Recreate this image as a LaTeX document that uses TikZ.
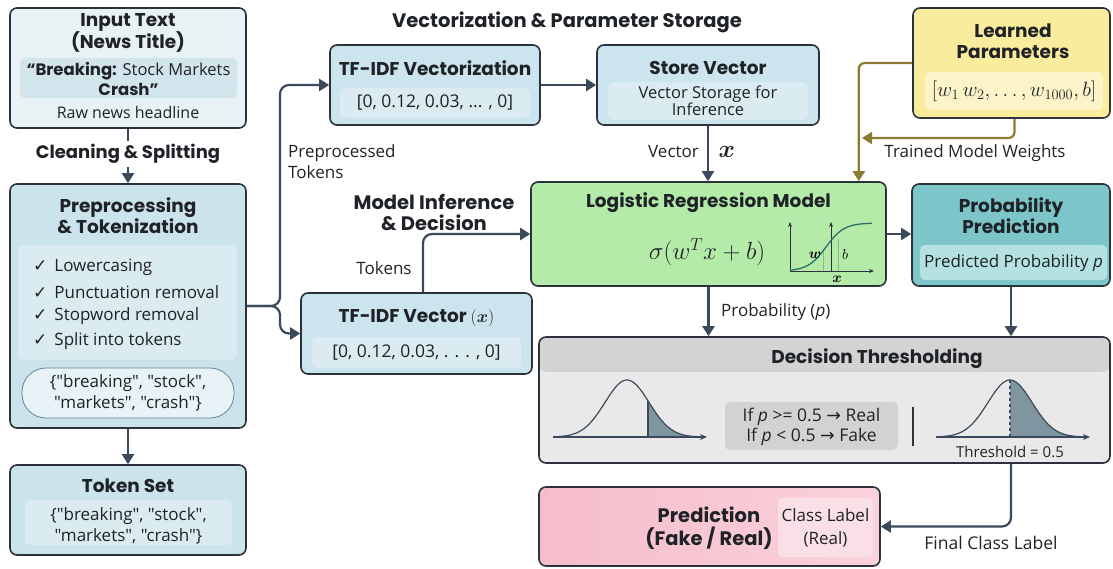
\documentclass[tikz,border=0pt]{standalone}
\usepackage{fontspec}
\setmainfont{Open Sans}[Ligatures=TeXOff]
\newfontfamily\hfont{Poppins}
\newfontfamily\symfont{DejaVu Sans}
\usepackage{bm}
\usetikzlibrary{arrows.meta,positioning,calc}
\definecolor{edge}{HTML}{2B323B}
\definecolor{ink}{HTML}{1F2328}
\definecolor{arrowc}{HTML}{3A4A5C}
\definecolor{inputfill}{HTML}{E8F2F5}
\definecolor{inputin}{HTML}{D3E5EC}
\definecolor{prepfill}{HTML}{CBE4EC}
\definecolor{prepin}{HTML}{DAEBF1}
\definecolor{pillfill}{HTML}{E7F3F6}
\definecolor{pilledge}{HTML}{5F8796}
\definecolor{tfvfill}{HTML}{CBE4ED}
\definecolor{tfvin}{HTML}{DAEBF1}
\definecolor{learnfill}{HTML}{F9EC9C}
\definecolor{learnin}{HTML}{FCF3C8}
\definecolor{olive}{HTML}{8B7B33}
\definecolor{logitfill}{HTML}{B4EBA8}
\definecolor{probfill}{HTML}{7CC6C9}
\definecolor{probin}{HTML}{B5E1E1}
\definecolor{dechead}{HTML}{D3D3D3}
\definecolor{decbody}{HTML}{E9E9E9}
\definecolor{decin}{HTML}{D2D2D2}
\definecolor{predl}{HTML}{F6BCCB}
\definecolor{predr}{HTML}{FAD2DC}
\definecolor{predin}{HTML}{FBDFE6}
\definecolor{shadec}{HTML}{7F959F}
\definecolor{sigc}{HTML}{2D6F6A}
\definecolor{gridc}{HTML}{8DB58C}
\newcommand\chk{{\symfont\char"2713}\hspace{7pt}}
\newcommand\rarr{{\symfont\char"2192}}

\begin{document}
\begin{tikzpicture}[x=1pt,y=-1pt,
    box/.style={draw=edge, line width=1.6pt, rounded corners=7pt, inner sep=0pt},
    inbox/.style={rounded corners=5pt, inner sep=0pt},
    ttl/.style={font=\hfont\bfseries\fontsize{18.5}{21}\selectfont, align=center, text=ink, inner sep=0pt},
    head/.style={ttl, font=\hfont\bfseries\fontsize{19.5}{21}\selectfont},
    txt/.style={font=\fontsize{17}{21}\selectfont, align=center, text=ink, inner sep=0pt},
    line/.style={draw=arrowc, line width=2.2pt},
    arr/.style={line, -{Triangle[length=10pt,width=12pt]}},
    warr/.style={draw=olive, line width=2.2pt, -{Triangle[length=10pt,width=12pt]}},
    bell/.style={draw=arrowc, line width=1.2pt},
    axis/.style={draw=edge, line width=0.9pt, -{Stealth[length=5pt,width=4pt]}}]

    \useasboundingbox (0,0) rectangle (1113,569);

    % input and preprocessing
    \node[box, fill=inputfill, minimum width=236pt, minimum height=120pt] (input) at (128,68) {};
    \node[ttl] (inputttl) at (128,33) {Input Text\\(News Title)};
    \node[inbox, fill=inputin, minimum width=217pt, minimum height=40pt] (headline) at (128.5,78) {};
    \node[txt, font=\fontsize{16.5}{20}\selectfont] (headtxt) at (128.5,79) {{\hfont\bfseries “Breaking:} Stock Markets\\{\hfont\bfseries Crash”}};
    \node[txt, font=\fontsize{16}{20}\selectfont] (rawtxt) at (128,113) {Raw news headline};

    \node[ttl, font=\hfont\bfseries\fontsize{18}{21}\selectfont, inner sep=3pt] (cleanlbl) at (128,154) {Cleaning \& Splitting};

    \node[box, fill=prepfill, minimum width=236pt, minimum height=244pt] (prep) at (128,306) {};
    \node[ttl] (prepttl) at (128,216) {Preprocessing\\\& Tokenization};
    \node[inbox, fill=prepin, minimum width=219pt, minimum height=115pt] (steplist) at (127.5,302.5) {};
    \foreach \s [count=\i] in {Lowercasing, Punctuation removal, Stopword removal, Split into tokens}{
        \node[txt, anchor=west] (step\i) at (33,242.5+24.6*\i) {\chk\s};
    }
    \node[txt, draw=pilledge, line width=0.8pt, fill=pillfill, rounded corners=24pt, minimum width=212pt, minimum height=50pt] (tokpill) at (128,393) {\{"breaking", "stock",\\"markets", "crash"\}};

    \node[box, fill=prepfill, minimum width=236pt, minimum height=90pt] (tokset) at (128,510) {};
    \node[ttl] (toksetttl) at (128,486) {Token Set};
    \node[inbox, fill=prepin, minimum width=207pt, minimum height=45pt] (toksetin) at (128.5,522.5) {};
    \node[txt] (toksettxt) at (128.5,526) {\{"breaking", "stock",\\"markets", "crash"\}};

    \draw[line] (input.south) -- (cleanlbl.north);
    \draw[arr] (cleanlbl.south) -- (prep.north);
    \draw[arr] (prep.south) -- (tokset.north);

    % vectorization
    \node[head] (vechead) at (567,22) {Vectorization \& Parameter Storage};
    \node[box, fill=tfvfill, minimum width=210pt, minimum height=80pt] (tfv) at (435,85) {};
    \node[ttl] (tfvttl) at (435,68) {TF-IDF Vectorization};
    \node[inbox, fill=tfvin, minimum width=190pt, minimum height=30pt] (tfvin) at (435,103) {};
    \node[txt, font=\fontsize{17.5}{20}\selectfont] (tfvtxt) at (435,103) {[0, 0.12, 0.03, ... , 0]};

    \node[box, fill=tfvfill, minimum width=222pt, minimum height=80pt] (store) at (708,85) {};
    \node[ttl] (storettl) at (708,68) {Store Vector};
    \node[inbox, fill=tfvin, minimum width=200pt, minimum height=38pt] (storein) at (708,101) {};
    \node[txt, font=\fontsize{16.5}{17}\selectfont] (storetxt) at (708,101) {Vector Storage for\\Inference};

    \node[box, fill=learnfill, minimum width=197pt, minimum height=110pt] (learn) at (1011.5,63) {};
    \node[ttl] (learnttl) at (1013,41) {Learned\\Parameters};
    \node[inbox, fill=learnin, minimum width=178pt, minimum height=38pt] (learnin) at (1014,91) {};
    \node[font=\fontsize{20.5}{21}\selectfont, text=ink] (learntxt) at (1014,91) {$[w_1\, w_2, \ldots, w_{1000}, b]$};

    % model
    \node[box, fill=logitfill, minimum width=355pt, minimum height=104pt] (logit) at (708.5,234) {};
    \node[ttl] (logitttl) at (708.5,203) {Logistic Regression Model};
    \node[font=\fontsize{26}{26}\selectfont, text=ink] (sigma) at (707,252) {$\sigma(w^T x + b)$};
    \draw[axis] (790,271) -- (790,222);
    \draw[axis] (790,271) -- (874,271);
    \draw[axis] (831,271) -- (831,222);
    \draw[gridc, line width=0.8pt] (823,250) -- (823,271) (838,239) -- (838,271);
    \draw[sigc, line width=1.3pt] plot[domain=790:872, samples=50] (\x,{271-48/(1+exp(-(\x-826)/9))});
    \node[font=\fontsize{14}{14}\selectfont] (wlab) at (815,255) {$\bm{w}$};
    \node[font=\fontsize{14}{14}\selectfont] (blab) at (845,255) {$b$};
    \node[font=\fontsize{14}{14}\selectfont] (xlab) at (837,279) {$\bm{x}$};

    \draw[arr] (tfv.east) -- (store.west);
    \draw[arr] (store.south) -- (store.south |- logit.north);
    \node[txt, anchor=east] (veclbl) at (699,152) {Vector};
    \node[font=\fontsize{23}{23}\selectfont, anchor=west, text=ink] (veclblx) at (715,152) {$\bm{x}$};

    \draw[warr, rounded corners=6pt] (learn.west) -| ([xshift=-28pt]logit.north east);
    \coordinate (wjoin) at (862,138);
    \draw[warr, rounded corners=6pt] ([xshift=3pt]learn.south) |- (wjoin);
    \node[txt] (wlbl) at (975,153) {Trained Model Weights};

    \node[box, fill=probfill, minimum width=198pt, minimum height=102pt] (probpred) at (1011,235) {};
    \node[ttl] (probttl) at (1011,216) {Probability\\Prediction};
    \node[inbox, fill=probin, minimum width=187pt, minimum height=35pt] (probin) at (1013.5,262.5) {};
    \node[txt] (probtxt) at (1013.5,263) {Predicted Probability \textit{p}};
    \draw[arr] (logit.east) -- (logit.east -| probpred.west);

    \node[head] (inflbl) at (434,212) {Model Inference\\\& Decision};
    \node[box, fill=tfvfill, minimum width=231pt, minimum height=81pt] (tfx) at (416.5,333.5) {};
    \node[ttl] (tfxttl) at (416.5,318) {TF-IDF Vector $(\bm{x})$};
    \node[inbox, fill=tfvin, minimum width=209pt, minimum height=31pt] (tfxin) at (416.5,352.5) {};
    \node[txt, font=\fontsize{17.5}{20}\selectfont] (tfxtxt) at (416.5,353) {[0, 0.12, 0.03, . . . , 0]};
    \draw[arr, rounded corners=9pt] ([xshift=6.5pt]tfx.north) |- (logit.west);
    \node[txt] (toklbl) at (384,268) {Tokens};

    \coordinate (split) at (280,306);
    \draw[arr, rounded corners=9pt] (prep.east) -- (split) |- (tfv.west);
    \draw[arr, rounded corners=9pt] (prep.east) -- (split) |- (tfx.west);
    \node[txt, align=left, anchor=north west] (pptlbl) at (288,144) {Preprocessed\\Tokens};

    % decision
    \node[box, fill=decbody, minimum width=571pt, minimum height=126pt,
        path picture={\fill[dechead] (path picture bounding box.north west) rectangle ([yshift=-35pt]path picture bounding box.north east);}] (dec) at (824.5,400) {};
    \node[ttl] (decttl) at (877,359) {Decision Thresholding};
    \draw[arr] (logit.south) -- (logit.south |- dec.north);
    \node[txt, anchor=west] (problbl) at (721,312) {Probability (\textit{p})};
    \draw[arr] (probpred.south) -- (probpred.south |- dec.north);

    \foreach \c/\s in {627/0.95, 1010/0}{
        \fill[shadec] ({\c+22*\s},437) -- plot[domain=\s:3.2, samples=40] ({\c+22*\x},{437-57*exp(-0.5*(\x)*(\x))}) -- ({\c+70},437) -- cycle;
        \draw[bell] plot[domain=-3.2:3.2, samples=80] ({\c+22*\x},{437-57*exp(-0.5*(\x)*(\x))});
        \draw[bell, -{Stealth[length=7pt,width=6pt]}] ({\c-74},437) -- ({\c+80},437);
    }
    \draw[bell] (648,437) -- (648,400.7);
    \draw[bell, dashed] (1010,437) -- (1010,380);
    \node[inbox, fill=decin, minimum width=173pt, minimum height=48pt] (rulebox) at (811.5,426) {};
    \node[txt, font=\fontsize{17.5}{20.5}\selectfont] (ruletxt) at (811.5,427) {If \textit{p} >= 0.5 \rarr{} Real\\If \textit{p} < 0.5 \rarr{} Fake};
    \draw[line width=1.4pt, draw=edge] (913,407) -- (913,446);
    \node[txt, font=\fontsize{15}{16}\selectfont] (thrlbl) at (1010,452) {Threshold = 0.5};

    % prediction
    \node[box, left color=predl, right color=predr, minimum width=341pt, minimum height=79pt] (pred) at (709.5,526.5) {};
    \node[ttl, font=\hfont\bfseries\fontsize{19.5}{23}\selectfont] (predttl) at (709,528) {Prediction\\(Fake / Real)};
    \node[inbox, fill=predin, minimum width=95pt, minimum height=59pt] (predin) at (825.5,527.5) {};
    \node[txt, font=\fontsize{17}{23}\selectfont] (predtxt) at (825.5,528) {Class Label\\(Real)};
    \draw[arr, rounded corners=9pt] (probpred.south |- dec.south) |- (pred.east);
    \node[txt, font=\fontsize{17.5}{21}\selectfont] (finlbl) at (991,543) {Final Class Label};

\end{tikzpicture}
\end{document}
